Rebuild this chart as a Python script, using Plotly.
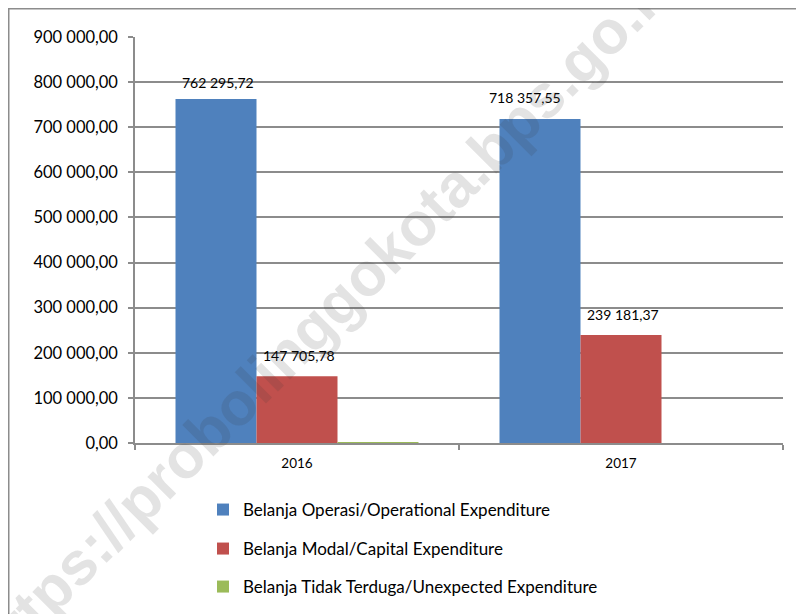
import plotly.graph_objects as go

years = ["2016", "2017"]
series_names = [
    "Belanja Operasi/Operational Expenditure",
    "Belanja Modal/Capital Expenditure",
    "Belanja Tidak Terduga/Unexpected Expenditure",
]
operasi = [762295.72, 718357.55]
modal = [147705.78, 239181.37]
tidak_terduga = [1000.0, 0.0]
y_ticks = [0, 100000, 200000, 300000, 400000, 500000, 600000, 700000, 800000, 900000]
colors = ["#4F81BD", "#C0504D", "#9BBB59"]
watermark = "https://probolinggokota.bps.go.id"

FONT = "Lato"

# plot area in page pixels (page has an 8px body margin)
PL, PR, PT, PB = 135, 783, 37, 443
PW, PH = PR - PL, PB - PT
BAR_PX = PW / len(years) * 0.75 / 3


def px_x(p):
    return (p - PL) / PW


def px_y(p):
    return (PB - p) / PH


def fmt(v):
    return f"{v:,.2f}".replace(",", " ").replace(".", ",")


series = [
    (series_names[0], operasi, colors[0], True),
    (series_names[1], modal, colors[1], True),
    (series_names[2], tidak_terduga, colors[2], False),
]
legend_ids = ["legend", "legend2", "legend3"]
legend_centres = [510, 549, 587]

fig = go.Figure()
annotations = []
label_xtweak = {(0, 1): -15}
label_yshift = {(0, 0): 17}
for i, (name, vals, col, show_text) in enumerate(series):
    fig.add_trace(go.Bar(
        x=years, y=vals, name=name, legend=legend_ids[i],
        marker=dict(color=col, line=dict(width=0)),
    ))
    if show_text:
        for j, v in enumerate(vals):
            annotations.append(dict(
                x=j, y=v, xref="x", yref="y", text=fmt(v),
                showarrow=False, xanchor="center", yanchor="middle",
                xshift=(i - 1) * BAR_PX + label_xtweak.get((i, j), 2),
                yshift=label_yshift.get((i, j), 21),
                font=dict(family=FONT, size=14, color="black"),
            ))

annotations.append(dict(
    text=watermark, xref="paper", yref="paper",
    x=px_x(326), y=px_y(314), xanchor="center", yanchor="middle",
    showarrow=False, textangle=-45,
    font=dict(family="Liberation Sans", size=61, weight="bold",
              color="rgba(60,60,60,0.14)"),
))

W, H = 796, 606
legends = {}
for lid, yc in zip(legend_ids, legend_centres):
    legends[lid] = dict(
        x=px_x(203), y=px_y(yc), xanchor="left", yanchor="middle",
        font=dict(family=FONT, size=17, color="black"),
        bgcolor="rgba(0,0,0,0)",
    )

fig.update_layout(
    width=W, height=H,
    margin=dict(l=PL - 8, r=(W + 8) - PR, t=PT - 8, b=(H + 8) - PB,
                autoexpand=False),
    paper_bgcolor="white", plot_bgcolor="white",
    barmode="group", bargap=0.25, bargroupgap=0,
    font=dict(family=FONT, color="black"),
    showlegend=True,
    xaxis=dict(
        type="category", categoryarray=years, range=[-0.5, len(years) - 0.5],
        showline=True, linecolor="#8c8c8c", linewidth=1.5,
        ticks="outside", tickson="boundaries", ticklen=5, tickcolor="#8c8c8c",
        tickwidth=1.5, showgrid=False, ticklabelstandoff=7,
        tickfont=dict(family=FONT, size=13.5, color="black"),
    ),
    yaxis=dict(
        range=[0, 900000], tickvals=y_ticks,
        ticktext=[fmt(v) for v in y_ticks],
        showline=True, linecolor="#8c8c8c", linewidth=1.5,
        ticks="outside", ticklen=5, tickcolor="#8c8c8c", tickwidth=1.5,
        showgrid=True, gridcolor="#8c8c8c", gridwidth=1.5,
        zeroline=False, ticklabelstandoff=7,
        tickfont=dict(family=FONT, size=16.5, color="black"),
    ),
    shapes=[dict(
        type="rect", xref="paper", yref="paper",
        x0=px_x(8.75), x1=px_x(900), y0=px_y(700), y1=px_y(8.75),
        line=dict(color="#8c8c8c", width=1.5), fillcolor="rgba(0,0,0,0)",
        layer="below",
    )],
    annotations=annotations,
    **legends,
)

fig.write_html("out.html")
